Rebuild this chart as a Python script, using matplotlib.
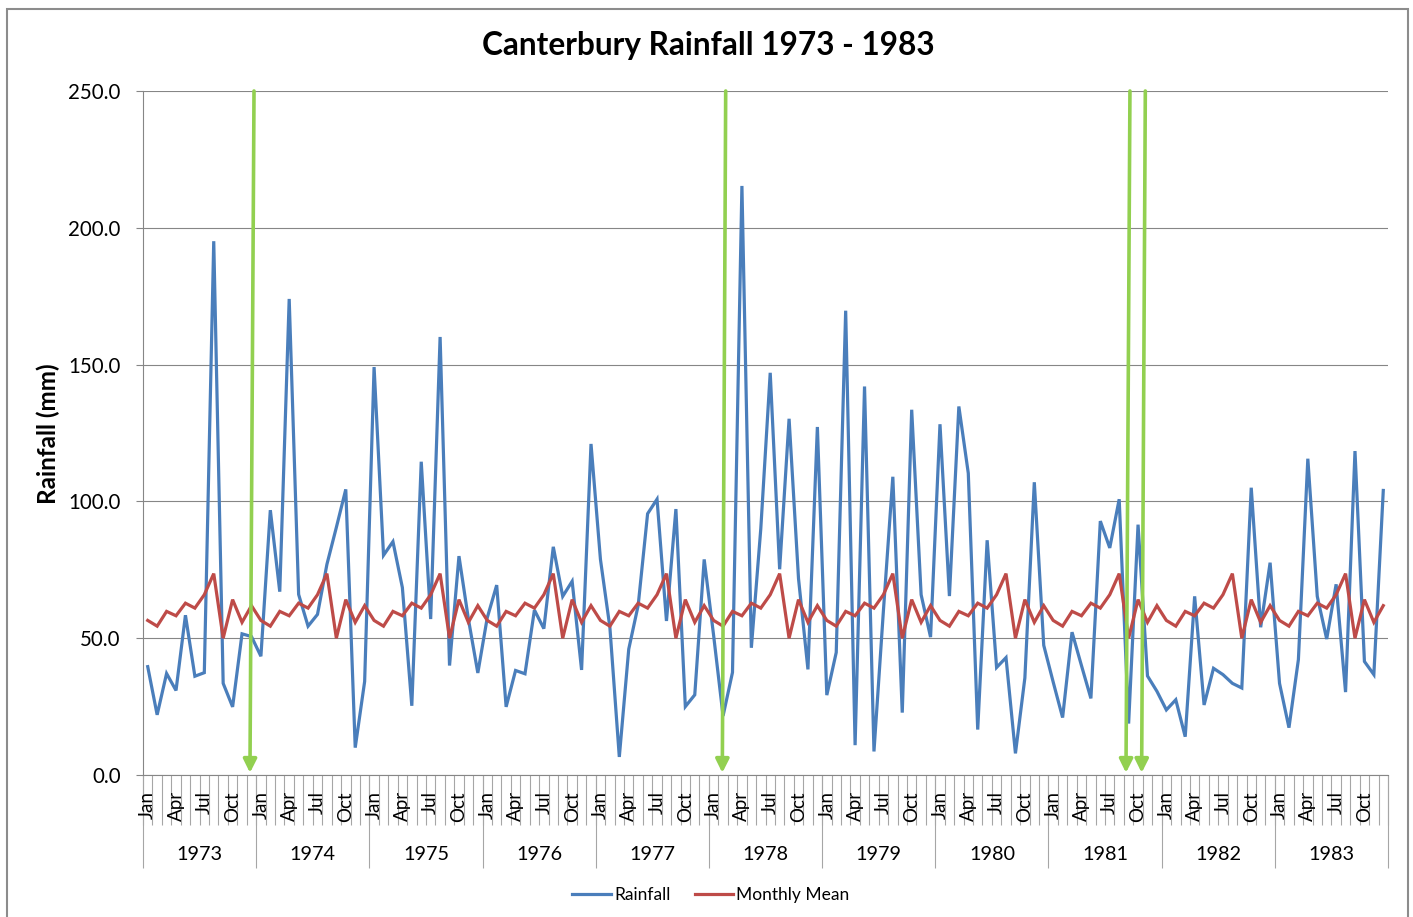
import numpy as np
import matplotlib
matplotlib.use("Agg")
import matplotlib.pyplot as plt
from matplotlib.lines import Line2D
from matplotlib.patches import Rectangle
import matplotlib.transforms as mtransforms

plt.rcParams['font.family'] = ['Lato', 'DejaVu Sans']

# ---------------- data ----------------
years = [1973, 1974, 1975, 1976, 1977, 1978, 1979, 1980, 1981, 1982, 1983]
month_names = ["Jan", "Feb", "Mar", "Apr", "May", "Jun",
               "Jul", "Aug", "Sep", "Oct", "Nov", "Dec"]
shown_months = ["Jan", "Apr", "Jul", "Oct"]

rain_1973 = [39.6, 22.0, 37.1, 30.9, 58.4, 36.1, 37.4, 195.1, 33.5, 24.9, 51.6, 50.6]
rain_1974 = [43.4, 96.8, 67.0, 174.0, 66.0, 54.4, 58.7, 77.0, 90.5, 104.4, 10.0, 34.2]
rain_1975 = [149.1, 80.3, 85.3, 68.5, 25.3, 114.5, 57.0, 160.1, 40.0, 80.0, 57.0, 37.3]
rain_1976 = [57.5, 69.4, 24.9, 38.2, 37.0, 60.3, 53.5, 83.4, 65.3, 70.8, 38.4, 121.0]
rain_1977 = [78.8, 54.0, 6.6, 46.0, 62.0, 95.5, 100.8, 56.3, 97.2, 25.0, 29.3, 78.8]
rain_1978 = [51.0, 21.6, 37.5, 215.3, 46.5, 90.0, 147.0, 75.2, 130.2, 71.8, 38.6, 127.2]
rain_1979 = [29.2, 44.8, 169.7, 10.9, 142.0, 8.6, 60.0, 109.0, 22.8, 133.5, 65.9, 50.4]
rain_1980 = [128.2, 65.4, 134.7, 110.3, 16.6, 85.8, 39.3, 42.9, 7.9, 35.5, 107.0, 47.4]
rain_1981 = [34.0, 21.0, 52.2, 40.0, 28.0, 92.8, 83.0, 100.8, 18.8, 91.5, 36.2, 30.6]
rain_1982 = [23.8, 27.5, 14.0, 65.3, 25.6, 39.0, 36.7, 33.5, 31.8, 105.0, 54.0, 77.6]
rain_1983 = [33.5, 17.3, 42.2, 115.6, 65.3, 49.7, 69.7, 30.3, 118.4, 41.5, 36.7, 104.0]

monthly_mean = [56.5, 54.4, 59.8, 58.2, 62.8, 61.0, 65.9, 73.6, 50.0, 64.1, 55.8, 61.9]

# green arrow markers: (category position at top, category position at tip)
arrow_top = [11.27, 61.28, 104.14, 105.77]
arrow_tip = [10.84, 60.92, 103.72, 105.38]

rainfall = (rain_1973 + rain_1974 + rain_1975 + rain_1976 + rain_1977 + rain_1978 +
            rain_1979 + rain_1980 + rain_1981 + rain_1982 + rain_1983)
mean_series = monthly_mean * len(years)
n = len(rainfall)
x = np.arange(n)

# ---------------- figure ----------------
W, H = 1413, 917
fig = plt.figure(figsize=(W / 100, H / 100), dpi=100)
ax_l, ax_r, ax_t, ax_b = 143, 1388, 91, 775
ax = fig.add_axes([ax_l / W, 1 - ax_b / H, (ax_r - ax_l) / W, (ax_b - ax_t) / H])
ax_h_px = ax_b - ax_t

blue = "#4A7EBB"
red = "#BE4B48"
green = "#92D050"
grid_c = "#868686"
tick_c = "#A6A6A6"

ax.plot(x, rainfall, color=blue, lw=2.3, zorder=3, solid_joinstyle='miter')
ax.plot(x, mean_series, color=red, lw=2.3, zorder=4, solid_joinstyle='miter')

ax.set_xlim(-0.5, n - 0.5)
ax.set_ylim(0, 250)
ax.set_yticks(np.arange(0, 251, 50))
ax.set_yticklabels([f"{v:.1f}" for v in np.arange(0, 251, 50)], fontsize=14.8, color="#000000")
ax.yaxis.grid(True, color=grid_c, lw=0.8)
ax.set_axisbelow(True)
ax.tick_params(axis='y', length=5, width=0.8, color=grid_c, pad=11)
ax.set_xticks([])
for s in ['top', 'right']:
    ax.spines[s].set_visible(False)
for s in ['left', 'bottom']:
    ax.spines[s].set_color(grid_c)
    ax.spines[s].set_linewidth(0.8)

# two-level category axis
trans = mtransforms.blended_transform_factory(ax.transData, ax.transAxes)
bounds = np.arange(n + 1) - 0.5
ax.vlines(bounds, -50 / ax_h_px, 0, transform=trans, colors=tick_c, lw=0.8, clip_on=False)
ybounds = np.arange(0, n + 1, 12) - 0.5
ax.vlines(ybounds, -93 / ax_h_px, 0, transform=trans, colors=tick_c, lw=0.8, clip_on=False)
for i in range(n):
    m = month_names[i % 12]
    if m in shown_months:
        ax.text(i, -16 / ax_h_px, m, transform=trans, rotation=90, ha='center', va='top',
                fontsize=13.5, color="#000000")
for k, yr in enumerate(years):
    ax.text(k * 12 + 5.5, -80 / ax_h_px, str(yr), transform=trans, ha='center',
            va='center', fontsize=14.3, color="#000000")

# arrows
for xt, xb in zip(arrow_top, arrow_tip):
    ax.annotate("", xy=(xb, 0.8), xytext=(xt, 250), xycoords='data', textcoords='data',
                arrowprops=dict(arrowstyle='-|>,head_length=0.8,head_width=0.4',
                                color=green, lw=2.6, shrinkA=0, shrinkB=0,
                                mutation_scale=10),
                zorder=6, annotation_clip=False)

# titles
fig.text(708 / W, 1 - 46 / H, "Canterbury Rainfall 1973 - 1983", ha='center', va='center',
         fontsize=22.7, fontweight='bold', color="#000000")
fig.text(48 / W, 1 - 434 / H, "Rainfall (mm)", ha='center', va='center', rotation=90,
         fontsize=17.5, fontweight='bold', color="#000000")

# legend
handles = [Line2D([], [], color=blue, lw=2.3), Line2D([], [], color=red, lw=2.3)]
fig.legend(handles, ["Rainfall", "Monthly Mean"], loc='center', ncol=2,
           bbox_to_anchor=(711 / W, 1 - 895 / H), frameon=False, fontsize=12.5,
           handlelength=2.2, handletextpad=0.2, columnspacing=1.4)

# chart border
fig.patches.append(Rectangle((7 / W, -0.02), (1408 - 7) / W, (917 - 9) / H + 0.02,
                             transform=fig.transFigure, fill=False, ec="#8C8C8C", lw=1.5))

fig.savefig("out.png", dpi=100)
